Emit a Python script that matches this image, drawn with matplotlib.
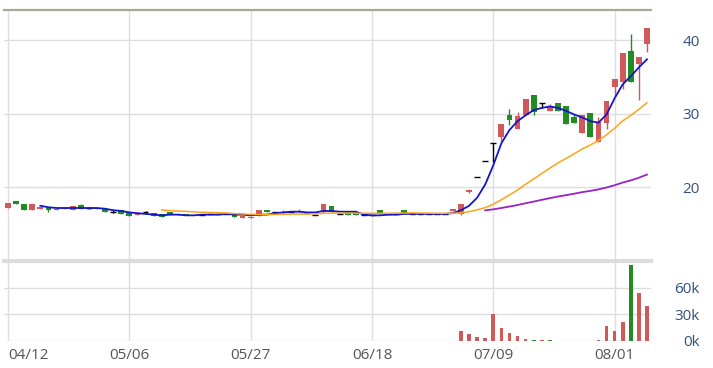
import matplotlib
matplotlib.use('Agg')
import matplotlib.pyplot as plt
import numpy as np
import pandas as pd

# daily candles, index 0 = 04/12
opens = [17.2, 18.2, 17.7, 16.9, 17.1, 17.2, 16.9, 17.0, 16.9, 17.6,
         17.2, 17.2, 17.0, 16.7, 16.9, 16.6, 16.2, 16.6, 16.5, 16.4,
         16.6, 16.2, 16.4, 16.2, 16.3, 16.4, 16.4, 16.4, 16.5, 15.8,
         15.8, 16.1, 16.9, 16.6, 16.5, 16.6, 16.6, 16.7, 16.3, 16.7,
         17.5, 16.4, 16.6, 16.6, 16.2, 16.2, 16.9, 16.4, 16.4, 16.9,
         16.4, 16.4, 16.4, 16.4, 16.4, 16.8, 16.4, 19.4, 21.4, 23.6,
         26.0, 26.9, 29.8, 28.0, 29.8, 32.5, 31.5, 30.4, 31.5, 31.0,
         29.5, 27.4, 30.1, 26.2, 28.75, 33.7, 34.3, 38.5, 36.8, 39.5]
highs = [17.9, 18.2, 17.7, 17.7, 17.3, 17.2, 17.1, 17.2, 17.5, 17.8,
         17.4, 17.2, 17.0, 16.9, 16.9, 16.6, 16.4, 16.8, 16.5, 16.4,
         16.6, 16.4, 16.4, 16.3, 16.3, 16.4, 16.4, 16.4, 16.5, 16.1,
         16.0, 16.9, 16.9, 16.6, 16.9, 16.6, 17.0, 16.7, 16.3, 17.8,
         17.5, 16.4, 16.6, 16.6, 16.2, 16.2, 16.9, 16.4, 16.4, 16.9,
         16.4, 16.4, 16.4, 16.4, 16.4, 17.0, 17.8, 19.8, 21.4, 23.6,
         26.0, 28.6, 30.6, 30.3, 32.0, 32.5, 31.5, 31.3, 31.5, 31.0,
         29.9, 29.9, 30.1, 29.6, 31.7, 34.7, 38.2, 40.9, 37.7, 41.6]
lows = [17.2, 17.8, 16.9, 16.9, 17.1, 16.6, 16.9, 17.0, 16.9, 17.1,
        17.0, 17.0, 16.7, 16.5, 16.4, 16.1, 16.2, 16.4, 16.1, 16.0,
        16.2, 16.2, 16.2, 16.2, 16.3, 16.4, 16.4, 16.4, 16.0, 15.8,
        15.8, 16.1, 16.7, 16.6, 16.4, 16.6, 16.6, 16.4, 16.3, 16.5,
        16.7, 16.4, 16.2, 16.2, 16.2, 16.2, 16.4, 16.4, 16.4, 16.4,
        16.4, 16.4, 16.4, 16.4, 16.4, 16.8, 16.3, 19.3, 21.4, 23.6,
        23.4, 26.3, 28.5, 28.0, 29.8, 29.8, 30.8, 30.4, 30.4, 28.6,
        28.8, 27.4, 26.8, 26.2, 28.0, 32.4, 33.4, 34.3, 31.9, 38.4]
closes = [17.9, 17.8, 16.9, 17.7, 17.3, 16.9, 17.1, 17.2, 17.5, 17.1,
          17.2, 17.0, 16.7, 16.7, 16.4, 16.1, 16.4, 16.6, 16.1, 16.0,
          16.2, 16.4, 16.2, 16.3, 16.3, 16.4, 16.4, 16.4, 16.0, 16.1,
          16.0, 16.9, 16.7, 16.6, 16.7, 16.6, 16.8, 16.4, 16.3, 17.8,
          16.7, 16.4, 16.2, 16.2, 16.2, 16.2, 16.4, 16.4, 16.4, 16.4,
          16.4, 16.4, 16.4, 16.4, 16.4, 17.0, 17.8, 19.6, 21.4, 23.6,
          26.0, 28.6, 29.2, 29.7, 32.0, 30.3, 31.5, 31.0, 30.4, 28.6,
          28.8, 29.9, 26.8, 28.9, 31.7, 34.7, 38.2, 34.3, 37.7, 41.6]
volumes = [0, 400, 0, 0, 0, 0, 0, 0, 400, 0,
           0, 0, 0, 0, 0, 0, 0, 0, 0, 0,
           0, 0, 0, 0, 0, 0, 0, 0, 0, 0,
           0, 0, 0, 0, 0, 0, 0, 0, 0, 400,
           0, 0, 0, 0, 0, 0, 0, 0, 0, 0,
           0, 0, 0, 0, 0, 0, 10900, 8300, 4500, 3000,
           30500, 14300, 9000, 5600, 2700, 1500, 800, 600, 0, 400,
           0, 0, 400, 600, 16900, 11000, 21000, 86000, 53500, 39500]

# short average (blue line) as drawn in the chart, starts at index 4
ma_short = [17.5, 17.3, 17.2, 17.2, 17.2, 17.2, 17.2, 17.2, 17.1, 16.9,
            16.8, 16.6, 16.5, 16.4, 16.3, 16.2, 16.3, 16.3, 16.2, 16.2,
            16.3, 16.3, 16.3, 16.4, 16.3, 16.3, 16.2, 16.3, 16.3, 16.5,
            16.6, 16.7, 16.7, 16.6, 16.6, 16.8, 16.8, 16.7, 16.7, 16.7,
            16.3, 16.2, 16.2, 16.3, 16.3, 16.4, 16.4, 16.4, 16.4, 16.4,
            16.4, 16.5, 16.9, 17.5, 18.6, 20.4, 23.0, 26.0, 27.8, 29.0,
            29.8, 30.5, 30.8, 31.0, 30.8, 30.4, 29.9, 29.5, 29.0, 28.8,
            29.9, 32.1, 34.0, 35.1, 36.3, 37.4]

tick_idx = [0, 15, 30, 45, 60, 75]
tick_labels = ['04/12', '05/06', '05/27', '06/18', '07/09', '08/01']

RED = '#d05a5a'
GREEN = '#228b22'
GRID = '#dedede'
LABEL = '#33507e'

plt.rcParams['font.family'] = ['Liberation Sans Narrow', 'Open Sans', 'DejaVu Sans']

o = np.array(opens)
h = np.array(highs)
l = np.array(lows)
c = np.array(closes)
x = np.arange(len(c))

fig = plt.figure(figsize=(7.13, 3.68), dpi=100)
ax = fig.add_axes([4 / 713, 1 - 261 / 368, 647 / 713, 251 / 368])
axv = fig.add_axes([4 / 713, 1 - 341 / 368, 647 / 713, 80 / 368])

cols = np.where(c > o, RED, np.where(c < o, GREEN, 'black'))

# wicks and bodies
ax.vlines(x, l, h, colors=cols, linewidth=1, zorder=3)
body = np.abs(c - o)
ax.bar(x, body, bottom=np.minimum(o, c), width=0.72, color=cols, zorder=3)
flat = c == o
ax.hlines(c[flat], x[flat] - 0.36, x[flat] + 0.36, colors='black', linewidth=1, zorder=3)

# moving averages
s = pd.Series(c)
ax.plot(x[len(c) - len(ma_short):], ma_short, color='#1414cc', lw=1.3, zorder=4)
ax.plot(x, s.rolling(20).mean(), color='#ffa318', lw=1.1, zorder=4)
ax.plot(x, s.rolling(60).mean(), color='#9a22c4', lw=1.3, zorder=4)

ax.set_xlim(-0.5, len(c) - 0.5)
ax.set_ylim(10, 44.1)
ax.set_yticks([20, 30, 40])
ax.set_xticks(tick_idx)
ax.set_xticklabels([])
ax.yaxis.tick_right()
ax.tick_params(axis='both', length=0)
ax.tick_params(axis='y', pad=35, labelsize=11, labelcolor=LABEL)
for lab in ax.get_yticklabels():
    lab.set_horizontalalignment('right')
ax.grid(color=GRID, linewidth=1)
ax.set_axisbelow(True)
for sp in ['left', 'right', 'bottom']:
    ax.spines[sp].set_visible(False)
ax.spines['top'].set_color('#aaa990')
ax.spines['top'].set_linewidth(1.6)

# volume
prev = np.concatenate([[c[0]], c[:-1]])
vcols = np.where(c > prev, RED, np.where(c < prev, GREEN, '#444444'))
axv.bar(x, volumes, width=0.45, color=vcols, zorder=3)
axv.set_xlim(-0.5, len(c) - 0.5)
axv.set_ylim(0, 90000)
axv.set_yticks([0, 30000, 60000])
axv.set_yticklabels(['0k', '30k', '60k'])
axv.set_xticks(tick_idx)
axv.set_xticklabels(tick_labels)
axv.yaxis.tick_right()
axv.tick_params(axis='both', length=0)
axv.tick_params(axis='y', pad=35, labelsize=11, labelcolor=LABEL)
axv.tick_params(axis='x', pad=5, labelsize=11, labelcolor='#555555')
for lab in axv.get_yticklabels():
    lab.set_horizontalalignment('right')
axv.get_xticklabels()[0].set_horizontalalignment('left')
axv.grid(color=GRID, linewidth=1)
axv.set_axisbelow(True)
for sp in ['left', 'right', 'bottom']:
    axv.spines[sp].set_visible(False)
axv.spines['top'].set_color('#dcdcdc')
axv.spines['top'].set_linewidth(3)

fig.savefig('out.png', dpi=100)
